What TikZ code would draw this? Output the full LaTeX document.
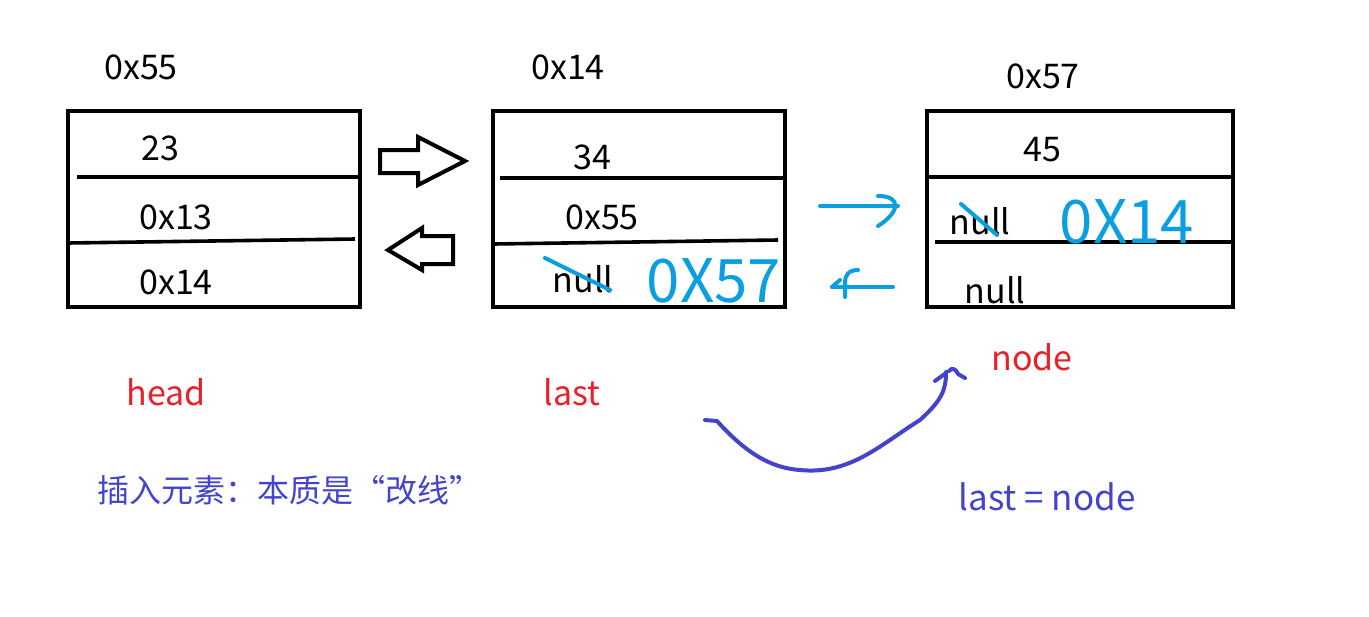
\documentclass[tikz,border=0pt]{standalone}
\usepackage{fontspec}
\setmainfont{Noto Sans CJK SC}
\usetikzlibrary{positioning}
\definecolor{addrred}{HTML}{E8202A}
\definecolor{noteblue}{HTML}{4343CC}
\definecolor{penblue}{HTML}{0A9FE0}

\begin{document}
\begin{tikzpicture}[
    x=0.5pt, y=-0.5pt,
    listbox/.style={draw, line width=2pt, minimum height=98pt, inner sep=0pt},
    divider/.style={line width=1.8pt},
    val/.style={font=\fontsize{17}{17}\selectfont},
    tag/.style={font=\fontsize{17}{17}\selectfont, text=addrred},
    note/.style={font=\fontsize{17}{17}\selectfont, text=noteblue},
    blockarrow/.style={draw, line width=2pt, fill=white, line join=miter},
    pen/.style={penblue, line width=2pt, line cap=round, line join=round},
    scrawl/.style={text=penblue, font=\fontsize{30}{30}\selectfont}
]
\useasboundingbox (0,0) rectangle (1369,616);
% three list nodes
\node[listbox, minimum width=146pt] (headbox) at (214,209) {};
\node[listbox, minimum width=146pt] (lastbox) at (639,209) {};
\node[listbox, minimum width=153pt] (nodebox) at (1080,209) {};
% cell dividers
\draw[divider] (77,177) -- (358,177);
\draw[divider] (68,243) -- (355,239);
\draw[divider] (500,178) -- (783,178);
\draw[divider] (493,244) -- (778,240);
\draw[divider] (927,177) -- (1233,177);
\draw[divider] (935,242) -- (1233,242);
% addresses
\node[val] (addrA) at (141,67) {0x55};
\node[val] (addrB) at (568,67) {0x14};
\node[val] (addrC) at (1043,76) {0x57};
% cell values
\node[val] (dataA) at (160,148) {23};
\node[val] (prevA) at (176,217) {0x13};
\node[val] (nextA) at (176,282) {0x14};
\node[val] (dataB) at (592,157) {34};
\node[val] (prevB) at (602,217) {0x55};
\node[val] (nextB) at (583,279) {null};
\node[val] (dataC) at (1042,150) {45};
\node[val] (prevC) at (980,221) {null};
\node[val] (nextC) at (995,290) {null};
% pointer names
\node[tag] (headlbl) at (166,392) {head};
\node[tag] (lastlbl) at (572,392) {last};
\node[tag] (nodelbl) at (1032,357) {node};
\node[note, anchor=west, inner sep=0pt, font=\fontsize{16}{16}\selectfont] (rule) at (97,490) {插入元素：本质是“改线”};
\node[note, font=\fontsize{17.5}{17.5}\selectfont] (assign) at (1047,497) {last = node};
% hollow arrows between head and last
\draw[blockarrow] (380,150) -- (418,150) -- (418,137) -- (465,161) -- (418,185)
    -- (418,173) -- (380,173) -- cycle;
\draw[blockarrow] (453,236) -- (422,236) -- (422,228) -- (388,250) -- (422,270)
    -- (422,264) -- (453,264) -- cycle;
% handwritten edits
\draw[pen] (545,258) -- (610,290);
\draw[pen] (961,204) -- (997,235);
\node[scrawl] (fixB) at (714,281) {0X57};
\node[scrawl] (fixC) at (1127,222) {0X14};
\draw[pen] (820,206) -- (898,206);
\draw[pen] (878,196) .. controls (902,196) and (900,212) .. (878,226);
\draw[pen] (893,287) -- (832,287);
\draw[pen] (858,270) .. controls (848,270) and (845,276) .. (845,282) -- (845,297);
\draw[pen] (832,287) -- (840,280);
% last moves to node
\draw[noteblue, line width=2pt, line cap=round, line join=round]
    (705,420) -- (717,421) .. controls (745,452) and (770,468) .. (800,470)
    .. controls (850,475) and (880,445) .. (920,420)
    .. controls (942,400) and (946,390) .. (946,372);
\draw[noteblue, line width=2pt, line cap=round, line join=round]
    (935,381) -- (946,373);
\draw[noteblue, line width=2pt, line cap=round, line join=round]
    (949,371) .. controls (952,367) and (956,369) .. (958,374) -- (965,378);
\end{tikzpicture}
\end{document}
